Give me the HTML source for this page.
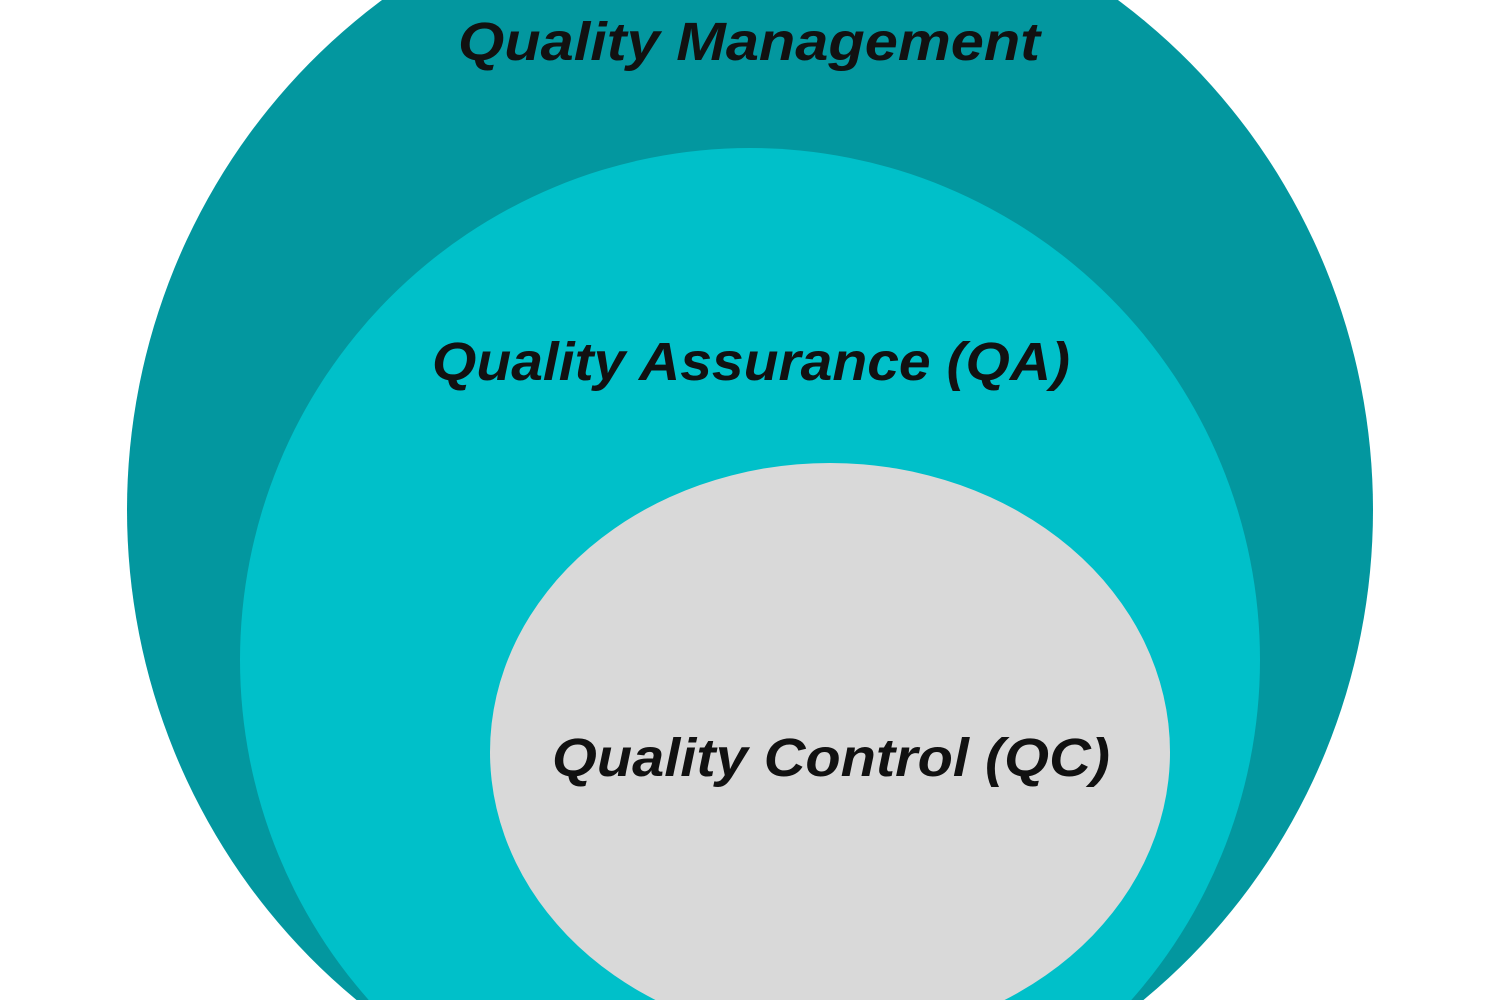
<!DOCTYPE html>
<html><head><meta charset="utf-8"><style>
html,body{margin:0;padding:0;background:#fff;width:1500px;height:1000px;overflow:hidden}
svg{display:block}
svg text{font-family:"Liberation Sans",sans-serif;font-weight:bold;font-style:italic;fill:#111}
</style></head><body>
<svg width="1500" height="1000" viewBox="0 0 1500 1000">
<ellipse cx="750" cy="510" rx="623" ry="632" fill="#03979f"/>
<ellipse cx="750" cy="660" rx="510" ry="512" fill="#00c0c9"/>
<ellipse cx="830" cy="752" rx="340" ry="289" fill="#d9d9d9"/>
<text x="458" y="60" font-size="54" textLength="582" lengthAdjust="spacingAndGlyphs">Quality Management</text>
<text x="432" y="380" font-size="54" textLength="638" lengthAdjust="spacingAndGlyphs">Quality Assurance (QA)</text>
<text x="552" y="776" font-size="54" textLength="558" lengthAdjust="spacingAndGlyphs">Quality Control (QC)</text>
</svg>
</body></html>
